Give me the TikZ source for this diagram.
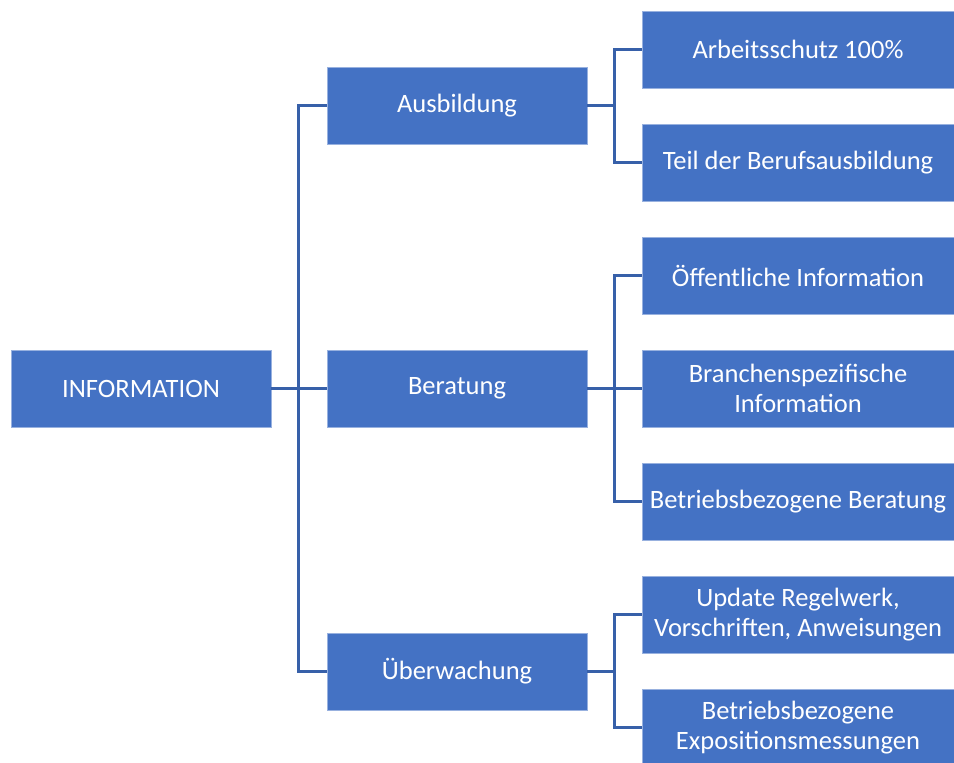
\documentclass[tikz,border=0pt]{standalone}
\usepackage{fontspec}
\setmainfont{Carlito}
\usepackage{tikz}
\usetikzlibrary{positioning}

\definecolor{boxblue}{HTML}{4472C4}
\definecolor{linkblue}{HTML}{3760A9}

\begin{document}
\begin{tikzpicture}[x=1pt,y=-1pt,line cap=rect,line join=miter,
        box/.style={rectangle,fill=boxblue,draw=boxblue!55!white,line width=0.8pt,
            text=white,align=center,inner sep=0pt,outer sep=1.5pt,
            font=\fontsize{26.5}{29.5}\selectfont},
        midbox/.style={box,minimum width=260,minimum height=77},
        leafbox/.style={box,minimum width=312,minimum height=77},
        conn/.style={draw=linkblue,line width=3pt}]
        \useasboundingbox (0,0) rectangle (954,763);

        \node[midbox] (info) at (141,388.5) {INFORMATION};

        \node[midbox] (ausb) at (457,105.5) {Ausbildung};
        \node[midbox] (bera) at (457,388.5) {Beratung};
        \node[midbox] (uebw) at (457,671.5) {Überwachung};

        \node[leafbox] (arbs) at (798,49.5) {Arbeitsschutz 100\%};
        \node[leafbox] (teil) at (798,162.5) {Teil der Berufsausbildung};
        \node[leafbox] (oeff) at (798,275.5) {Öffentliche Information};
        \node[leafbox] (bran) at (798,388.5) {Branchenspezifische\\Information};
        \node[leafbox] (betr) at (798,501.5) {Betriebsbezogene Beratung};
        \node[leafbox] (upd) at (798,614.5) {Update Regelwerk,\\Vorschriften, Anweisungen};
        \node[leafbox] (expo) at (798,727.5) {Betriebsbezogene\\Expositionsmessungen};

        \coordinate (bus0) at (298,388.5);
        \coordinate (bus1) at (614,105.5);
        \coordinate (bus2) at (614,388.5);
        \coordinate (bus3) at (614,671.5);

        % first level
        \draw[conn] (info.east) -- (bus0);
        \draw[conn] (bus0) |- (ausb.west);
        \draw[conn] (bus0) |- (uebw.west);
        \draw[conn] (bus0) -- (bera.west);

        % second level
        \draw[conn] (ausb.east) -- (bus1);
        \draw[conn] (bus1) |- (arbs.west);
        \draw[conn] (bus1) |- (teil.west);
        \draw[conn] (bera.east) -- (bus2);
        \draw[conn] (bus2) |- (oeff.west);
        \draw[conn] (bus2) |- (betr.west);
        \draw[conn] (bus2) -- (bran.west);
        \draw[conn] (uebw.east) -- (bus3);
        \draw[conn] (bus3) |- (upd.west);
        \draw[conn] (bus3) |- (expo.west);
    \end{tikzpicture}
\end{document}
